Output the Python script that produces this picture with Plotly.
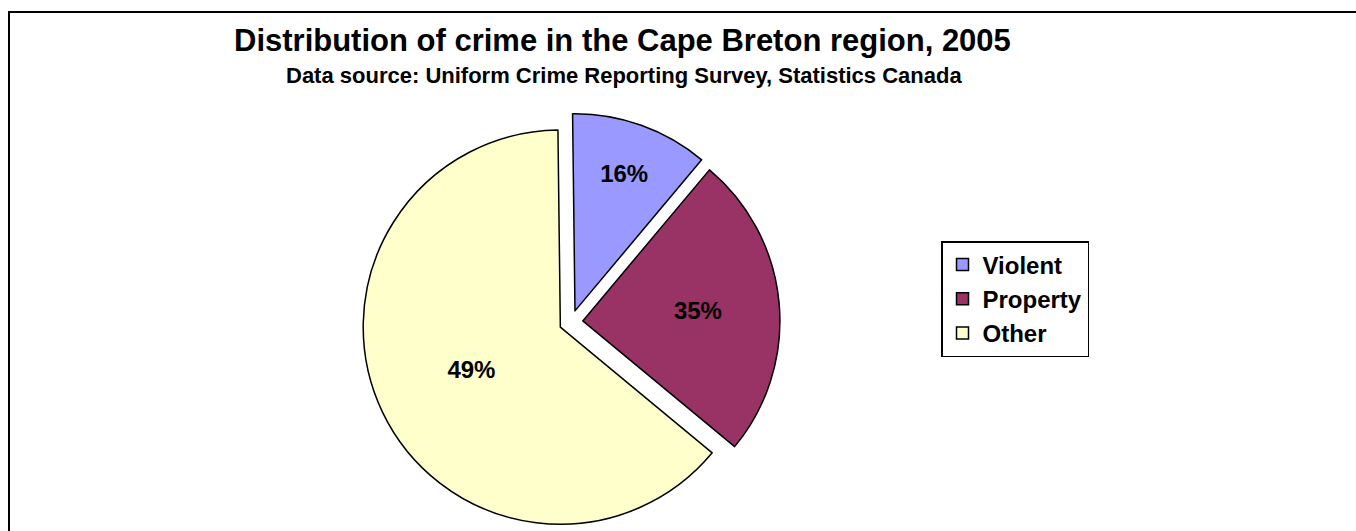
import plotly.graph_objects as go

# Data
categories = ["Violent", "Property", "Other"]
slice_values = [11.3, 24.9, 63.8]          # slice sizes as drawn (angles)
slice_labels = ["16%", "35%", "49%"]       # labels printed on slices
colors = ["#9999FF", "#993366", "#FFFFCC"]

title_text = "Distribution of crime in the Cape Breton region, 2005"
subtitle_text = "Data source: Uniform Crime Reporting Survey, Statistics Canada"

FONT = "Liberation Sans, Arial, sans-serif"
W, H = 1356, 531

fig = go.Figure()
fig.add_trace(go.Pie(
    labels=categories,
    values=slice_values,
    text=slice_labels,
    textinfo="text",
    textposition="inside",
    insidetextorientation="horizontal",
    textfont=dict(family=FONT, size=24, color="black", weight="bold"),
    marker=dict(colors=colors, line=dict(color="black", width=1.5)),
    sort=False,
    direction="clockwise",
    rotation=-0.7,
    pull=[0.06, 0.06, 0.06],
    domain=dict(x=[0.2670, 0.5752], y=[0.0, 0.7872]),
    hoverinfo="skip",
))

fig.update_layout(
    width=W, height=H,
    margin=dict(l=0, r=0, t=0, b=0),
    paper_bgcolor="white",
    plot_bgcolor="white",
    showlegend=True,
    legend=dict(
        x=941 / W, y=1 - 241 / H, xanchor="left", yanchor="top",
        bordercolor="black", borderwidth=1.5, bgcolor="white",
        font=dict(family=FONT, size=24, color="black", weight="bold"),
        traceorder="normal",
    ),
    annotations=[
        dict(text=title_text, xref="paper", yref="paper",
             x=622 / W, y=1 - 40 / H, xanchor="center", yanchor="middle",
             showarrow=False,
             font=dict(family=FONT, size=31, color="black", weight="bold")),
        dict(text=subtitle_text, xref="paper", yref="paper",
             x=624 / W, y=1 - 76 / H, xanchor="center", yanchor="middle",
             showarrow=False,
             font=dict(family=FONT, size=22, color="black", weight="bold")),
    ],
    shapes=[
        dict(type="rect", xref="paper", yref="paper",
             x0=9 / W, x1=1.05, y0=-0.05, y1=1 - 12 / H,
             line=dict(color="black", width=2), fillcolor="rgba(0,0,0,0)"),
    ],
)

fig.write_html(
    "out.html",
    config={"displayModeBar": False},
    post_script="document.body.style.margin='0';document.body.style.overflow='hidden';",
)
